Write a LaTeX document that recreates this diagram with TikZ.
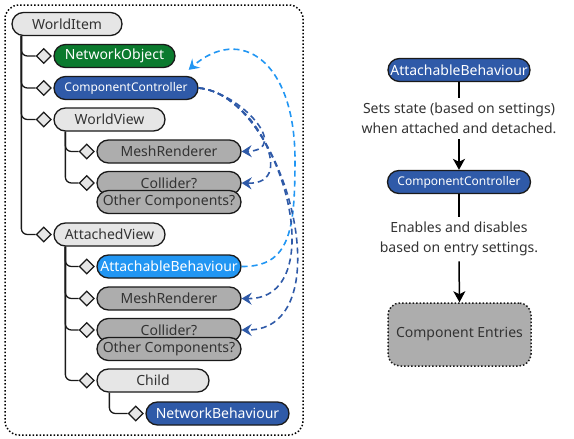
\documentclass[tikz,border=0pt]{standalone}
\usepackage{fontspec}
\setmainfont{Noto Sans}
\usetikzlibrary{shapes.geometric,arrows.meta}
\definecolor{lgray}{HTML}{E6E6E6}
\definecolor{mgray}{HTML}{ADADAD}
\definecolor{tgray}{HTML}{333333}
\definecolor{dblue}{HTML}{2F5AA8}
\definecolor{lblue}{HTML}{2196F3}
\definecolor{dgreen}{HTML}{0B7A2E}
\definecolor{edge}{HTML}{1A1A1A}
\begin{document}
\begin{tikzpicture}[x=1pt,y=-1pt,
  pill/.style={draw=edge, line width=1.3pt, rounded corners=11.5pt, minimum height=23pt, inner sep=0pt, font=\fontsize{14}{17}\selectfont},
  lightpill/.style={pill, fill=lgray, text=tgray},
  graypill/.style={pill, fill=mgray, text=tgray},
  bluepill/.style={pill, fill=dblue, text=white},
  dia/.style={diamond, draw=edge, fill=lgray, line width=1.2pt, minimum width=15pt, minimum height=15pt, inner sep=0pt, anchor=east},
  tree/.style={draw=edge, line width=1.3pt, rounded corners=6pt},
  dk/.style={draw=dblue, line width=1.6pt, dash pattern=on 6pt off 4pt, -{Stealth[length=10pt,width=12pt,inset=3.5pt]}},
  lt/.style={draw=lblue, line width=1.6pt, dash pattern=on 6pt off 4pt, -{Stealth[length=10pt,width=12pt,inset=3.5pt]}},
  lbl/.style={align=center, text=tgray, font=\fontsize{14}{20.5}\selectfont, inner sep=0pt},
  flow/.style={draw=black, line width=1.5pt},
]
\useasboundingbox (0,0) rectangle (574,439);
% outer frame
\draw[line width=1.5pt, dotted, rounded corners=14pt] (5,5) rectangle (303,435);

% tree nodes
\node[lightpill, minimum width=110pt] (wi) at (67,24) {WorldItem};
\node[pill, fill=dgreen, text=white, minimum width=121pt] (no) at (114.5,56) {NetworkObject};
\node[bluepill, minimum width=144pt, font=\fontsize{12}{14}\selectfont] (cc) at (126,88) {ComponentController};
\node[lightpill, minimum width=111pt] (wv) at (109.5,119.5) {WorldView};
\node[graypill, minimum width=144pt] (mr1) at (169,151.5) {MeshRenderer};
\node[graypill, minimum width=144pt] (co1) at (169,183) {Collider?};
\node[graypill, minimum width=144pt] (oc1) at (169,202) {Other Components?};
\node[lightpill, minimum width=111pt] (av) at (109.5,234.5) {AttachedView};
\node[pill, fill=lblue, text=white, minimum width=144pt] (ab) at (169,266.5) {AttachableBehaviour};
\node[graypill, minimum width=144pt] (mr2) at (169,298.5) {MeshRenderer};
\node[graypill, minimum width=144pt] (co2) at (169,330) {Collider?};
\node[graypill, minimum width=144pt] (oc2) at (169,349) {Other Components?};
\node[lightpill, minimum width=112pt] (ch) at (153,380.5) {Child};
\node[bluepill, minimum width=143pt] (nb) at (217.5,413.5) {NetworkBehaviour};

% diamonds
\node[dia] (d1) at ([xshift=-1.5pt]no.west) {};
\node[dia] (d2) at ([xshift=-1.5pt]cc.west) {};
\node[dia] (d3) at ([xshift=-1.5pt]wv.west) {};
\node[dia] (d4) at ([xshift=-1.5pt]av.west) {};
\node[dia] (d5) at ([xshift=-1.5pt]mr1.west) {};
\node[dia] (d6) at ([xshift=-1.5pt]co1.west) {};
\node[dia] (d7) at ([xshift=-1.5pt]ab.west) {};
\node[dia] (d8) at ([xshift=-1.5pt]mr2.west) {};
\node[dia] (d9) at ([xshift=-1.5pt]co2.west) {};
\node[dia] (d10) at ([xshift=-1.5pt]ch.west) {};
\node[dia] (d11) at ([xshift=-1.5pt]nb.west) {};

% tree lines
\foreach \d in {d1,d2,d3,d4}
  \draw[tree] ([xshift=10pt]wi.south west) |- (\d.west);
\foreach \d in {d5,d6}
  \draw[tree] ([xshift=12pt]wv.south west) |- (\d.west);
\foreach \d in {d7,d8,d9,d10}
  \draw[tree] ([xshift=12pt]av.south west) |- (\d.west);
\draw[tree] ([xshift=13pt]ch.south west) |- (d11.west);

% dashed arrows
\draw[lt] (ab.east) .. controls (290,267) and (295,230) .. (295,160)
  .. controls (295,60) and (240,25) .. ([xshift=-10pt,yshift=6pt]cc.north east);
\draw[dk] (cc.east) .. controls (240,92) and (292,150) .. (mr1.east);
\draw[dk] (cc.east) .. controls (250,92) and (302,185) .. (co1.east);
\draw[dk] (cc.east) .. controls (280,95) and (335,300) .. (mr2.east);
\draw[dk] (cc.east) .. controls (285,95) and (345,330) .. (co2.east);

% right side
\node[bluepill, minimum width=142pt] (ab2) at (459,70) {AttachableBehaviour};
\node[lbl] (l1) at (459,118.5) {Sets state (based on settings)\\when attached and detached.};
\node[bluepill, minimum width=143pt, font=\fontsize{12}{14}\selectfont] (cc2) at (459,182) {ComponentController};
\node[lbl] (l2) at (459,239) {Enables and disables\\based on entry settings.};
\node[draw=edge, line width=1.5pt, dotted, rounded corners=12pt, fill=mgray, text=tgray, minimum width=143pt, minimum height=63pt, inner sep=0pt, font=\fontsize{14}{17}\selectfont] (ce) at (459.5,334.5) {Component Entries};

\draw[flow] (ab2.south) -- ([yshift=5pt]l1.north);
\draw[flow, -{Stealth[length=11pt,width=12pt,inset=3pt]}] ([yshift=-5pt]l1.south) -- (cc2.north);
\draw[flow] (cc2.south) -- ([yshift=5pt]l2.north);
\draw[flow, -{Stealth[length=11pt,width=12pt,inset=3pt]}] ([yshift=-5pt]l2.south) -- (ce.north);
\end{tikzpicture}
\end{document}
